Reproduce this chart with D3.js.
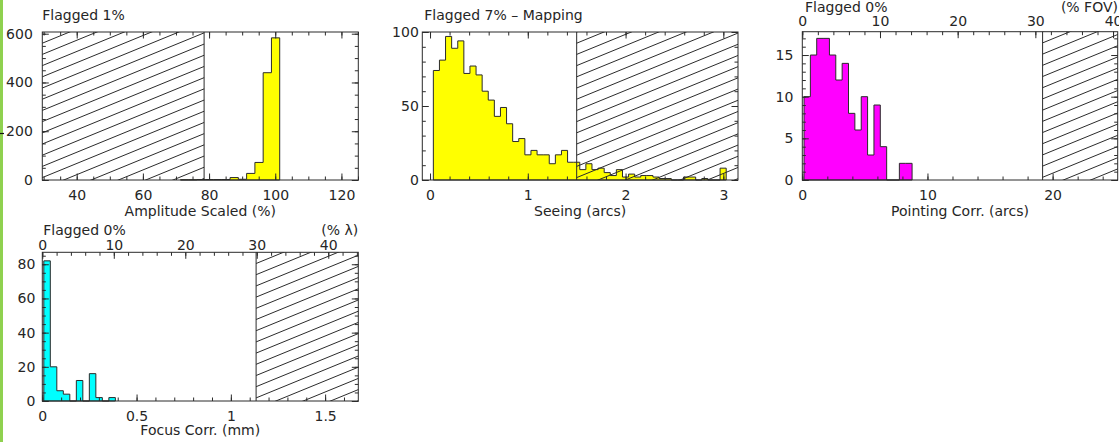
<!DOCTYPE html>
<html>
<head>
<meta charset="utf-8">
<script src="https://cdn.jsdelivr.net/npm/d3@7"></script>
<style>
  html, body { margin: 0; padding: 0; background: #fff; overflow: hidden; }
  svg { display: block; }
  text { font-family: "DejaVu Sans", sans-serif; font-size: 14px; fill: #262626; }
</style>
</head>
<body>
<svg id="chart" width="1119" height="442"></svg>
<script>
// ---- Amplitude scaled (%) histogram ----
const ampBinStart = 71.35;
const ampBinWidth = 2.5;
const ampCounts = [1, 1, 2, 2, 2, 2, 10, 3, 27, 72, 440, 583];
const ampTicks = [40, 60, 80, 100, 120];
const ampCountTicks = [0, 200, 400, 600];
const ampLimit = 78.5;

// ---- Seeing (arcs) histogram ----
const seeingBinStart = 0.034;
const seeingBinWidth = 0.0624;
const seeingCounts = [74, 81, 97, 89, 94, 72, 77, 71, 60, 54, 43, 49, 38, 26, 28, 17,
                      20, 17, 17, 11, 17, 20, 12, 12, 7, 11, 7, 8, 5, 3, 7, 2,
                      4, 2, 3, 3, 2, 1, 1, 0, 0, 2, 2, 0, 1, 0, 0, 8];
const seeingTicks = [0, 1, 2, 3];
const seeingCountTicks = [0, 50, 100];
const seeingLimit = 1.5;

// ---- Pointing correction (arcs) histogram ----
const pointBinStart = 0.136;
const pointBinWidth = 0.508;
const pointCounts = [10, 15, 17, 17, 15, 12, 14, 8, 6, 10, 3, 9, 4, 0, 0, 2, 2];
const pointTicks = [0, 10, 20];
const pointFovTicks = [0, 10, 20, 30, 40];
const pointCountTicks = [0, 5, 10, 15];
const pointLimit = 19.2;

// ---- Focus correction (mm) histogram ----
const focusBinStart = 0.008;
const focusBinWidth = 0.0345;
const focusCounts = [82, 20, 6, 4, 0, 12, 0, 16, 2, 0, 2];
const focusTicks = [0, 0.5, 1, 1.5];
const focusLambdaTicks = [0, 10, 20, 30, 40];
const focusCountTicks = [0, 20, 40, 60, 80];
const focusLimit = 1.134;

const svg = d3.select("#chart");
const INK = "#2b2b2b";

// page edge strip
svg.append("rect").attr("x", 0).attr("y", 0).attr("width", 3).attr("height", 442).attr("fill", "#8fd14f");
svg.append("line").attr("x1", 0).attr("x2", 4).attr("y1", 133.5).attr("y2", 133.5)
   .attr("stroke", "#111").attr("stroke-width", 1.2);

function styleAxis(sel) {
  sel.select(".domain").remove();
  sel.selectAll(".tick line").attr("stroke", INK).attr("stroke-width", 1);
  sel.selectAll(".tick text").attr("fill", INK).attr("font-size", 14)
     .attr("font-family", '"DejaVu Sans", sans-serif');
}

let clipId = 0;
function drawPanel(c) {
  const g = svg.append("g");
  const x = d3.scaleLinear().domain(c.xDomain).range([c.left, c.right]);
  const y = d3.scaleLinear().domain(c.yDomain).range([c.bottom, c.top]);

  const bins = c.counts.map((n, i) => ({
    x0: c.binStart + i * c.binWidth,
    x1: c.binStart + (i + 1) * c.binWidth,
    n
  }));

  // histogram: one closed step shape, filled then outlined
  const p = d3.path();
  p.moveTo(x(bins[0].x0), y(0));
  bins.forEach(b => { p.lineTo(x(b.x0), y(b.n)); p.lineTo(x(b.x1), y(b.n)); });
  p.lineTo(x(bins[bins.length - 1].x1), y(0));
  p.closePath();
  g.append("path").attr("d", p.toString()).attr("fill", c.color)
    .attr("stroke", INK).attr("stroke-width", 1).attr("stroke-linejoin", "miter");

  // hatched (flagged) range
  const hx0 = x(c.hatch[0]), hx1 = x(c.hatch[1]);
  const id = "hclip" + (clipId++);
  svg.append("clipPath").attr("id", id).append("rect")
    .attr("x", hx0).attr("y", c.top).attr("width", hx1 - hx0).attr("height", c.bottom - c.top);
  const hg = g.append("g").attr("clip-path", `url(#${id})`);
  const slope = 0.41, gap = 11.2;
  const cMin = c.top + slope * hx0 - gap, cMax = c.bottom + slope * hx1 + gap;
  for (let k = cMin; k <= cMax; k += gap) {
    hg.append("line")
      .attr("x1", hx0 - 2).attr("y1", k - slope * (hx0 - 2))
      .attr("x2", hx1 + 2).attr("y2", k - slope * (hx1 + 2))
      .attr("stroke", INK).attr("stroke-width", 1);
  }
  const edgeX = c.hatchSide === "left" ? hx1 : hx0;
  g.append("line").attr("x1", edgeX).attr("x2", edgeX).attr("y1", c.top).attr("y2", c.bottom)
    .attr("stroke", INK).attr("stroke-width", 1);

  // frame
  g.append("rect").attr("x", c.left).attr("y", c.top)
    .attr("width", c.right - c.left).attr("height", c.bottom - c.top)
    .attr("fill", "none").attr("stroke", INK).attr("stroke-width", 1);

  const MAJ = 6.5, MIN = 3.5;

  // bottom axis
  g.append("g").attr("transform", `translate(0,${c.bottom})`)
    .call(d3.axisBottom(x).tickValues(c.xTicks).tickSize(-MAJ).tickPadding(9.6).tickFormat(d => String(d)))
    .call(styleAxis);
  g.append("g").attr("transform", `translate(0,${c.bottom})`)
    .call(d3.axisBottom(x).tickValues(c.xMinor).tickSize(-MIN).tickFormat(""))
    .call(styleAxis);

  // top axis: either mirrors the bottom or carries a second unit
  if (c.topDomain) {
    const xt = d3.scaleLinear().domain(c.topDomain).range([c.left, c.right]);
    g.append("g").attr("transform", `translate(0,${c.top})`)
      .call(d3.axisTop(xt).tickValues(c.topTicks).tickSize(-MAJ).tickPadding(c.topPad).tickFormat(d => String(d)))
      .call(styleAxis);
    g.append("g").attr("transform", `translate(0,${c.top})`)
      .call(d3.axisTop(xt).tickValues(c.topMinor).tickSize(-MIN).tickFormat(""))
      .call(styleAxis);
  } else {
    g.append("g").attr("transform", `translate(0,${c.top})`)
      .call(d3.axisTop(x).tickValues(c.xTicks).tickSize(-MAJ).tickFormat(""))
      .call(styleAxis);
    g.append("g").attr("transform", `translate(0,${c.top})`)
      .call(d3.axisTop(x).tickValues(c.xMinor).tickSize(-MIN).tickFormat(""))
      .call(styleAxis);
  }

  // left and right axes
  g.append("g").attr("transform", `translate(${c.left},0)`)
    .call(d3.axisLeft(y).tickValues(c.yTicks).tickSize(-MAJ).tickPadding(c.yPad).tickFormat(d => String(d)))
    .call(styleAxis);
  g.append("g").attr("transform", `translate(${c.left},0)`)
    .call(d3.axisLeft(y).tickValues(c.yMinor).tickSize(-MIN).tickFormat(""))
    .call(styleAxis);
  g.append("g").attr("transform", `translate(${c.right},0)`)
    .call(d3.axisRight(y).tickValues(c.yTicks).tickSize(-MAJ).tickFormat(""))
    .call(styleAxis);
  g.append("g").attr("transform", `translate(${c.right},0)`)
    .call(d3.axisRight(y).tickValues(c.yMinor).tickSize(-MIN).tickFormat(""))
    .call(styleAxis);

  // texts
  g.append("text").attr("x", c.titleX).attr("y", c.titleY).text(c.title);
  if (c.unitLabel) {
    g.append("text").attr("x", c.unitX).attr("y", c.titleY).attr("text-anchor", "end").text(c.unitLabel);
  }
  g.append("text").attr("x", (c.left + c.right) / 2).attr("y", c.xLabelY)
    .attr("text-anchor", "middle").text(c.xLabel);
}

const steps = (a, b, s) => d3.range(0, Math.round((b - a) / s) + 1).map(i => +(a + i * s).toFixed(4));

drawPanel({
  left: 42.3, right: 358.3, top: 32, bottom: 180,
  xDomain: [29.6, 125.1], yDomain: [0, 607],
  binStart: ampBinStart, binWidth: ampBinWidth, counts: ampCounts, color: "#ffff00",
  xTicks: ampTicks, xMinor: steps(30, 125, 5),
  yTicks: ampCountTicks, yMinor: steps(0, 600, 50), yPad: 9.5,
  hatch: [29.6, ampLimit], hatchSide: "left",
  title: "Flagged 1%", titleX: 42.3, titleY: 20,
  xLabel: "Amplitude Scaled (%)", xLabelY: 215.5
});

drawPanel({
  left: 422.3, right: 738, top: 32, bottom: 180,
  xDomain: [-0.079, 3.15], yDomain: [0, 100],
  binStart: seeingBinStart, binWidth: seeingBinWidth, counts: seeingCounts, color: "#ffff00",
  xTicks: seeingTicks, xMinor: steps(0, 3.0, 0.2),
  yTicks: seeingCountTicks, yMinor: steps(0, 100, 10), yPad: 3.5,
  hatch: [seeingLimit, 3.15], hatchSide: "right",
  title: "Flagged 7% \u2013 Mapping", titleX: 424.3, titleY: 20,
  xLabel: "Seeing (arcs)", xLabelY: 215.5
});

drawPanel({
  left: 802.3, right: 1117.7, top: 31.7, bottom: 180,
  xDomain: [0, 25.2], yDomain: [0, 17.8],
  binStart: pointBinStart, binWidth: pointBinWidth, counts: pointCounts, color: "#ff00ff",
  xTicks: pointTicks, xMinor: steps(0, 24, 2),
  topDomain: [0, 40.6], topTicks: pointFovTicks, topMinor: steps(0, 40, 2), topPad: 5.7,
  yTicks: pointCountTicks, yMinor: steps(0, 17, 1), yPad: 9,
  hatch: [pointLimit, 25.2], hatchSide: "right",
  title: "Flagged 0%", titleX: 805, titleY: 12,
  unitLabel: "(% FOV)", unitX: 1118,
  xLabel: "Pointing Corr. (arcs)", xLabelY: 215.5
});

drawPanel({
  left: 42.3, right: 358.3, top: 252.3, bottom: 401,
  xDomain: [0, 1.676], yDomain: [0, 87],
  binStart: focusBinStart, binWidth: focusBinWidth, counts: focusCounts, color: "#00ffff",
  xTicks: focusTicks, xMinor: steps(0, 1.6, 0.1),
  topDomain: [0, 44.2], topTicks: focusLambdaTicks, topMinor: steps(0, 44, 2), topPad: 2.8,
  yTicks: focusCountTicks, yMinor: steps(0, 85, 5), yPad: 7,
  hatch: [focusLimit, 1.676], hatchSide: "right",
  title: "Flagged 0%", titleX: 43.3, titleY: 235,
  unitLabel: "(% \u03bb)", unitX: 358.3,
  xLabel: "Focus Corr. (mm)", xLabelY: 435
});
</script>
</body>
</html>
